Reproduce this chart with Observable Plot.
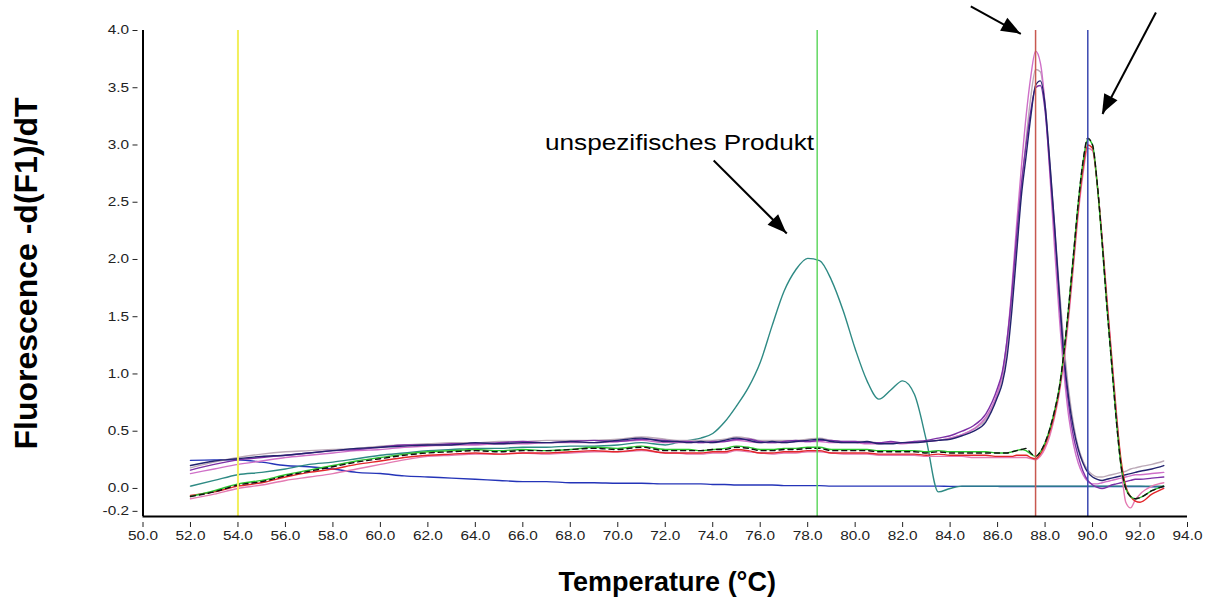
<!DOCTYPE html>
<html><head><meta charset="utf-8">
<script src="https://cdn.jsdelivr.net/npm/d3@7"></script>
<script src="https://cdn.jsdelivr.net/npm/@observablehq/plot@0.6"></script>
<style>html,body{margin:0;padding:0;background:#fff;} #chart{width:1207px;height:601px;}</style>
</head><body><div id="chart"></div>
<script>
// Temperature grid (°C)
const temps = [
  52,53,54,55,56,57,58,59,60,61,62,63,64,65,66,67,68,69,70,71,72,
  72.5,73,73.5,74,74.5,75,75.5,76,76.5,77,77.5,78,78.5,79,79.5,80,80.5,81,81.5,82,82.5,83,83.5,84,84.5,85,85.5,86,
  86.2,86.4,86.6,86.8,87,87.2,87.4,87.6,87.8,88,88.2,88.4,88.6,88.8,89,89.2,89.4,89.6,89.8,90,90.2,90.4,90.6,90.8,91,91.2,91.4,91.6,91.8,92,
  92.5,93
];

// Product 1 (Tm ~87.6)
const navyA = [
  0.20,0.24,0.26,0.28,0.29,0.31,0.33,0.35,0.36,0.37,0.38,0.38,0.40,0.39,0.40,0.40,0.41,0.40,0.42,0.44,0.41,
  0.41,0.40,0.41,0.40,0.42,0.44,0.42,0.40,0.41,0.40,0.41,0.42,0.43,0.41,0.40,0.40,0.41,0.39,0.39,0.40,0.40,0.41,0.42,0.43,0.46,0.50,0.58,0.80,
  0.92,1.15,1.55,2.05,2.55,2.9,3.25,3.52,3.56,3.35,2.85,2.3,1.7,1.15,0.78,0.52,0.34,0.22,0.14,0.10,0.08,0.07,0.08,0.09,0.10,0.11,0.12,0.13,0.14,0.15,
  0.17,0.20
];
const purpleA = [
  0.16,0.21,0.25,0.27,0.29,0.31,0.33,0.34,0.36,0.38,0.38,0.39,0.39,0.40,0.41,0.40,0.41,0.42,0.41,0.43,0.42,
  0.41,0.41,0.40,0.41,0.41,0.43,0.43,0.41,0.40,0.41,0.42,0.41,0.42,0.42,0.41,0.41,0.40,0.40,0.41,0.40,0.41,0.42,0.44,0.46,0.50,0.55,0.65,0.88,
  1.02,1.3,1.7,2.2,2.65,3.0,3.3,3.5,3.52,3.3,2.8,2.25,1.65,1.1,0.72,0.45,0.28,0.15,0.07,0.03,0.01,0.00,0.01,0.03,0.04,0.05,0.06,0.07,0.08,0.08,
  0.09,0.10
];
const magentaA = [
  0.13,0.17,0.21,0.24,0.27,0.29,0.31,0.33,0.34,0.36,0.37,0.38,0.38,0.39,0.39,0.40,0.40,0.40,0.41,0.42,0.40,
  0.40,0.40,0.40,0.40,0.41,0.42,0.41,0.40,0.40,0.40,0.41,0.41,0.41,0.40,0.40,0.40,0.39,0.39,0.40,0.39,0.40,0.41,0.42,0.44,0.47,0.52,0.62,0.84,
  1.0,1.3,1.75,2.3,2.8,3.25,3.6,3.82,3.72,3.35,2.75,2.1,1.5,1.0,0.62,0.38,0.22,0.12,0.06,0.04,0.04,0.05,0.06,0.07,0.08,0.09,0.10,0.11,0.12,0.12,
  0.13,0.14
];
const greyA = [
  0.18,0.23,0.27,0.30,0.32,0.33,0.34,0.35,0.37,0.38,0.39,0.40,0.40,0.41,0.41,0.42,0.42,0.42,0.43,0.45,0.43,
  0.42,0.42,0.42,0.42,0.43,0.45,0.44,0.42,0.42,0.42,0.42,0.43,0.44,0.42,0.41,0.41,0.41,0.40,0.40,0.40,0.41,0.41,0.42,0.44,0.47,0.52,0.60,0.82,
  0.96,1.22,1.62,2.12,2.62,3.05,3.42,3.66,3.64,3.35,2.85,2.3,1.75,1.25,0.85,0.56,0.36,0.24,0.16,0.12,0.10,0.10,0.11,0.12,0.13,0.14,0.15,0.17,0.18,0.19,
  0.21,0.24
];

// Product 2 (Tm ~89.8)
const greenB = [
  -0.07,-0.02,0.04,0.07,0.12,0.16,0.20,0.24,0.27,0.30,0.32,0.33,0.34,0.33,0.34,0.33,0.34,0.36,0.35,0.37,0.34,
  0.34,0.34,0.33,0.34,0.35,0.37,0.36,0.34,0.34,0.35,0.35,0.36,0.36,0.34,0.34,0.34,0.34,0.33,0.33,0.33,0.33,0.32,0.33,0.32,0.32,0.32,0.32,0.31,
  0.31,0.31,0.32,0.33,0.34,0.33,0.30,0.28,0.32,0.40,0.52,0.68,0.88,1.2,1.6,2.05,2.5,2.85,3.05,3.0,2.65,2.15,1.6,1.1,0.6,0.2,0.0,-0.07,-0.09,-0.08,
  -0.02,0.02
];
const blackB = [
  -0.07,-0.03,0.03,0.06,0.11,0.15,0.19,0.23,0.26,0.29,0.31,0.32,0.33,0.32,0.33,0.33,0.34,0.35,0.34,0.36,0.33,
  0.33,0.33,0.33,0.34,0.34,0.36,0.35,0.33,0.33,0.34,0.34,0.35,0.35,0.33,0.33,0.33,0.33,0.32,0.32,0.32,0.32,0.31,0.32,0.31,0.31,0.31,0.31,0.31,
  0.31,0.31,0.32,0.33,0.34,0.35,0.31,0.28,0.32,0.40,0.52,0.68,0.88,1.2,1.6,2.05,2.5,2.86,3.06,3.0,2.66,2.16,1.6,1.1,0.6,0.2,0.0,-0.07,-0.09,-0.08,
  -0.02,0.02
];
const redB = [
  -0.06,-0.03,0.02,0.05,0.10,0.14,0.17,0.21,0.24,0.27,0.29,0.30,0.31,0.30,0.31,0.31,0.32,0.33,0.32,0.34,0.31,
  0.31,0.31,0.31,0.32,0.32,0.34,0.33,0.31,0.31,0.32,0.32,0.33,0.33,0.31,0.31,0.31,0.31,0.30,0.30,0.30,0.30,0.29,0.30,0.29,0.29,0.29,0.29,0.28,
  0.28,0.28,0.28,0.29,0.29,0.29,0.27,0.26,0.30,0.38,0.50,0.65,0.86,1.18,1.56,2.0,2.45,2.8,3.0,2.97,2.65,2.18,1.65,1.15,0.65,0.25,0.02,-0.07,-0.11,-0.12,
  -0.05,0.0
];
const pinkB = [
  -0.09,-0.05,0.0,0.03,0.07,0.10,0.13,0.17,0.21,0.25,0.28,0.29,0.30,0.30,0.31,0.30,0.31,0.32,0.32,0.33,0.31,
  0.31,0.30,0.30,0.31,0.31,0.33,0.32,0.31,0.30,0.31,0.31,0.32,0.32,0.31,0.30,0.30,0.30,0.29,0.29,0.29,0.29,0.28,0.28,0.28,0.28,0.27,0.27,0.27,
  0.27,0.27,0.27,0.27,0.27,0.27,0.26,0.25,0.28,0.35,0.46,0.62,0.83,1.12,1.5,1.95,2.4,2.75,2.97,2.95,2.65,2.2,1.68,1.18,0.68,0.2,-0.12,-0.17,-0.1,-0.05,
  0.02,0.05
];

// Unspecific product (Tm ~78.4)
const tealC = [
  0.02,0.07,0.12,0.14,0.17,0.21,0.23,0.26,0.29,0.31,0.33,0.34,0.35,0.35,0.36,0.36,0.37,0.37,0.38,0.40,0.38,
  0.40,0.42,0.44,0.48,0.58,0.72,0.88,1.1,1.42,1.72,1.91,2.01,1.99,1.82,1.55,1.22,0.94,0.78,0.86,0.94,0.82,0.42,-0.03,0.0,0.02,0.02,0.02,0.02,
  0.02,0.02,0.02,0.02,0.02,0.02,0.02,0.02,0.02,0.02,0.02,0.02,0.02,0.02,0.02,0.02,0.02,0.02,0.02,0.02,0.02,0.02,0.02,0.02,0.02,0.02,0.02,0.02,0.02,0.02,
  0.02,0.02
];
// Negative control
const blueD = [
  0.245,0.25,0.25,0.23,0.20,0.19,0.17,0.14,0.13,0.11,0.10,0.09,0.08,0.07,0.06,0.06,0.05,0.05,0.045,0.045,0.04,
  0.04,0.04,0.04,0.035,0.035,0.03,0.03,0.03,0.03,0.025,0.025,0.025,0.025,0.02,0.02,0.02,0.02,0.02,0.02,0.02,0.02,0.02,0.02,0.018,0.018,0.018,0.018,0.018,
  0.017,0.017,0.017,0.017,0.017,0.017,0.017,0.017,0.017,0.017,0.017,0.017,0.017,0.017,0.017,0.017,0.017,0.017,0.017,0.017,0.017,0.017,0.017,0.017,0.017,0.017,0.017,0.017,0.017,0.017,
  0.015,0.015
];

// Melting temperature markers
const markerTemps = [54.0, 78.4, 87.6, 89.8];
const markerColors = ["#f2ef5c", "#62d862", "#c85850", "#3a48b0"];

const xTicks = [50,52,54,56,58,60,62,64,66,68,70,72,74,76,78,80,82,84,86,88,90,92,94];
const yTicks = [-0.2,0,0.5,1,1.5,2,2.5,3,3.5,4];
const yDomain = [-0.245, 4.0];

// Annotation
const noteText = ["unspezifisches Produkt"];
const noteX = [72.6];
const noteY = [3.02];
const arrowX1 = [74.04, 84.87, 92.67];
const arrowY1 = [2.865, 4.21, 4.157];
const arrowX2 = [77.12, 86.98, 90.42];
const arrowY2 = [2.227, 3.97, 3.27];

const xTitle = "Temperature (°C)";
const yTitle = "Fluorescence -d(F1)/dT";

const series = [
  {name: "blueD", values: blueD, color: "#2434b8"},
  {name: "tealC", values: tealC, color: "#2e8a84"},
  {name: "greyA", values: greyA, color: "#bcaab8"},
  {name: "magentaA", values: magentaA, color: "#cf70c8"},
  {name: "purpleA", values: purpleA, color: "#7d30a6"},
  {name: "navyA", values: navyA, color: "#23236e"},
  {name: "pinkB", values: pinkB, color: "#e47ab2"},
  {name: "redB", values: redB, color: "#e3262a"},
  {name: "greenB", values: greenB, color: "#2ac62e"},
  {name: "blackB", values: blackB, color: "#111111", dash: "5,4"}
];
for (const s of series) if (s.values.length !== temps.length) throw new Error(s.name + " length " + s.values.length);

const arrows = arrowX1.map((x1, i) => ({x1, y1: arrowY1[i], x2: arrowX2[i], y2: arrowY2[i]}));

function arrowHeads(index, scales) {
  const g = d3.create("svg:g").attr("aria-label", "arrow heads");
  for (const a of arrows) {
    const x1 = scales.x(a.x1), y1 = scales.y(a.y1), x2 = scales.x(a.x2), y2 = scales.y(a.y2);
    const ang = Math.atan2(y2 - y1, x2 - x1);
    const L = 19, W = 7.5;
    const bx = x2 - L * Math.cos(ang), by = y2 - L * Math.sin(ang);
    const p = [[x2, y2], [bx - W * Math.sin(ang), by + W * Math.cos(ang)], [bx + W * Math.sin(ang), by - W * Math.cos(ang)]];
    g.append("path").attr("d", "M" + p.map(q => q.join(",")).join("L") + "Z").attr("fill", "#000");
  }
  return g.node();
}

const marks = [
  Plot.axisX({ticks: xTicks, tickFormat: d => d.toFixed(1), tickSize: 5, tickPadding: 4, dy: 6, fontSize: 12, label: null, stroke: "#222", color: "#222"}),
  Plot.axisY({ticks: yTicks, tickFormat: d => d.toFixed(1), tickSize: 5, tickPadding: 4, dx: -5, fontSize: 12, label: null, stroke: "#222", color: "#222"}),
];
for (const s of series) {
  marks.push(Plot.line(temps.map((t, i) => ({t, v: s.values[i]})), {
    x: "t", y: "v", stroke: s.color, strokeWidth: 1.4, strokeDasharray: s.dash, curve: "monotone-x"
  }));
}
markerTemps.forEach((t, i) => marks.push(Plot.ruleX([t], {stroke: markerColors[i], strokeWidth: i === 0 ? 2 : 1.5})));
marks.push(
  Plot.ruleX([50], {stroke: "#000", strokeWidth: 2}),
  Plot.ruleY([yDomain[0]], {stroke: "#000", strokeWidth: 2}),
  Plot.link(arrows, {x1: "x1", y1: "y1", x2: "x2", y2: "y2", stroke: "#000", strokeWidth: 2}),
  arrowHeads,
  Plot.text(noteText, {x: (d, i) => noteX[i], y: (d, i) => noteY[i], text: d => d, fontSize: 22, fill: "#000", textAnchor: "middle", lineAnchor: "middle"}),
  Plot.text([yTitle], {frameAnchor: "left", text: d => d, rotate: -90, dx: -116, fontSize: 32, fontWeight: "bold", fill: "#000", textAnchor: "middle", lineAnchor: "middle"}),
  Plot.text([xTitle], {frameAnchor: "bottom", text: d => d, dx: 2, dy: 66, fontSize: 27, fontWeight: "bold", fill: "#000", textAnchor: "middle", lineAnchor: "middle"})
);

const chart = Plot.plot({
  width: 1207, height: 601,
  marginLeft: 142.5, marginRight: 20, marginTop: 30, marginBottom: 85,
  x: {domain: [50, 94]},
  y: {domain: yDomain},
  style: {fontFamily: "'Liberation Sans', Arial, sans-serif", background: "#fff", color: "#222", overflow: "visible"},
  marks
});
document.getElementById("chart").appendChild(chart);

// Horizontal stretch of text to match the reference's wide lettering
function stretch(nodes, s) {
  nodes.forEach(t => {
    const tr = t.getAttribute("transform");
    if (tr) t.setAttribute("transform", tr + ` scale(${s},1)`);
    else {
      const x = parseFloat(t.getAttribute("x")) || 0;
      t.setAttribute("transform", `translate(${x},0) scale(${s},1) translate(${-x},0)`);
    }
  });
}
const tickTexts = [...chart.querySelectorAll("g[aria-label] text")].filter(t => /tick label/.test(t.parentNode.getAttribute("aria-label") || ""));
stretch(tickTexts, 1.28);
stretch([...chart.querySelectorAll("text")].filter(t => t.textContent === noteText[0]), 1.19);
</script></body></html>
